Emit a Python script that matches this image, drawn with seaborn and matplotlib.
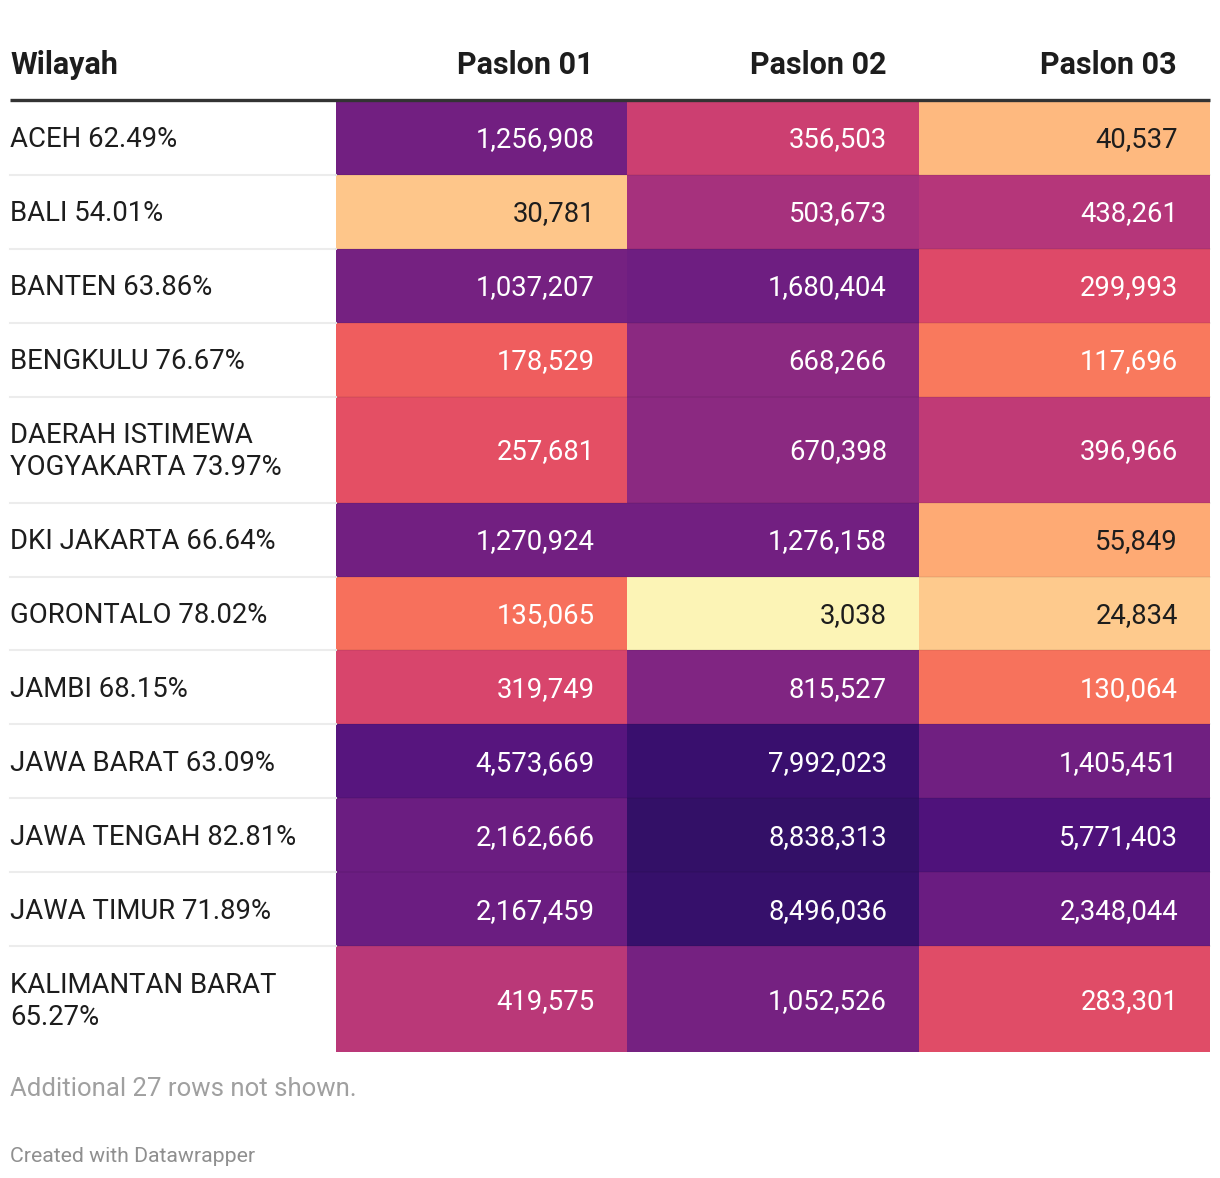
import matplotlib
matplotlib.use("Agg")
import matplotlib.pyplot as plt
from matplotlib.colors import FuncNorm, to_rgb
import numpy as np
import pandas as pd
import seaborn as sns

# table contents
wilayah = [
    "ACEH 62.49%",
    "BALI 54.01%",
    "BANTEN 63.86%",
    "BENGKULU 76.67%",
    "DAERAH ISTIMEWA\nYOGYAKARTA 73.97%",
    "DKI JAKARTA 66.64%",
    "GORONTALO 78.02%",
    "JAMBI 68.15%",
    "JAWA BARAT 63.09%",
    "JAWA TENGAH 82.81%",
    "JAWA TIMUR 71.89%",
    "KALIMANTAN BARAT\n65.27%",
]
columns = ["Paslon 01", "Paslon 02", "Paslon 03"]
paslon_01 = [1256908, 30781, 1037207, 178529, 257681, 1270924, 135065, 319749,
             4573669, 2162666, 2167459, 419575]
paslon_02 = [356503, 503673, 1680404, 668266, 670398, 1276158, 3038, 815527,
             7992023, 8838313, 8496036, 1052526]
paslon_03 = [40537, 438261, 299993, 117696, 396966, 55849, 24834, 130064,
             1405451, 5771403, 2348044, 283301]
footnote = "Additional 27 rows not shown."
credit = "Created with Datawrapper"

df = pd.DataFrame({"Paslon 01": paslon_01, "Paslon 02": paslon_02,
                   "Paslon 03": paslon_03}, index=wilayah)

# color scale: piecewise on log10 of the vote count, fed into magma_r
knot_log = [2.0, 3.48, 4.49, 4.75, 5.07, 5.25, 5.48, 5.62, 5.82, 5.91, 6.02, 6.33, 6.76, 6.95, 8.0]
knot_pos = [0.0, 0.02, 0.12, 0.18, 0.28, 0.34, 0.40, 0.49, 0.60, 0.63, 0.66, 0.68, 0.75, 0.82, 1.0]


def _fwd(x):
    return np.interp(np.log10(np.clip(x, 1, None)), knot_log, knot_pos)


def _inv(y):
    return 10 ** np.interp(y, knot_pos, knot_log)


norm = FuncNorm((_fwd, _inv), vmin=10 ** knot_log[0], vmax=10 ** knot_log[-1])
cmap = plt.get_cmap("magma_r")

W, H = 1220, 1178
fig = plt.figure(figsize=(W / 100, H / 100), dpi=100)
plt.rcParams["font.family"] = ["Roboto", "DejaVu Sans"]

# row geometry (two-line rows are taller)
top, bottom = 101, 1052
units = [10 if "\n" in w else 7 for w in wilayah]
unit_px = (bottom - top) / sum(units)
edges = top + np.concatenate([[0], np.cumsum(units)]) * unit_px

x_left, x_heat, x_right = 10, 336, 1210
ax = fig.add_axes([x_heat / W, 1 - bottom / H, (x_right - x_heat) / W, (bottom - top) / H])
expanded = np.repeat(df.to_numpy(dtype=float), units, axis=0)
sns.heatmap(expanded, ax=ax, cmap=cmap, norm=norm, cbar=False,
            xticklabels=False, yticklabels=False, linewidths=0)
ax.set_axis_off()

# overlay axes in pixel coordinates, above the heatmap
bg = fig.add_axes([0, 0, 1, 1])
bg.set_xlim(0, W)
bg.set_ylim(H, 0)
bg.axis("off")
bg.set_zorder(5)

DARK = "#1d1d1d"
BODY = 19.8

# header
bg.text(x_left, 74, "Wilayah", fontsize=22, fontweight="bold", color=DARK,
        ha="left", va="baseline")
col_right = [594, 886, 1177]
for cx, name in zip(col_right, columns):
    bg.text(cx, 74, name, fontsize=22, fontweight="bold", color=DARK,
            ha="right", va="baseline")
bg.plot([x_left, x_right], [top - 1.5, top - 1.5], color="#333333", lw=2.4,
        solid_capstyle="butt")

# rows
for i, name in enumerate(wilayah):
    y0, y1 = edges[i], edges[i + 1]
    yc = (y0 + y1) / 2
    lines = name.split("\n")
    for k, line in enumerate(lines):
        off = (k - (len(lines) - 1) / 2) * 32
        bg.text(x_left, yc + off + 9.5, line, fontsize=BODY, color=DARK,
                ha="left", va="baseline")
    for j, col in enumerate(columns):
        v = df.iloc[i, j]
        r, g, b = to_rgb(cmap(norm(v)))
        lin = [c / 12.92 if c <= 0.04045 else ((c + 0.055) / 1.055) ** 2.4 for c in (r, g, b)]
        lum = 0.2126 * lin[0] + 0.7152 * lin[1] + 0.0722 * lin[2]
        txt_color = DARK if lum > 0.42 else "white"
        bg.text(col_right[j] + 1, yc + 9.5, f"{v:,}", fontsize=BODY, color=txt_color,
                ha="right", va="baseline")
    if i < len(wilayah) - 1:
        bg.plot([x_left, x_heat], [y1, y1], color="#ececec", lw=1.5)
        bg.plot([x_heat, x_right], [y1, y1], color="black", alpha=0.06, lw=1.2)

# footer
bg.text(x_left, 1096, footnote, fontsize=18.5, color="#a0a0a0", ha="left", va="baseline")
bg.text(x_left, 1162, credit, fontsize=15.3, color="#8f8f8f", ha="left", va="baseline")

fig.savefig("out.png", dpi=100, facecolor="white")
